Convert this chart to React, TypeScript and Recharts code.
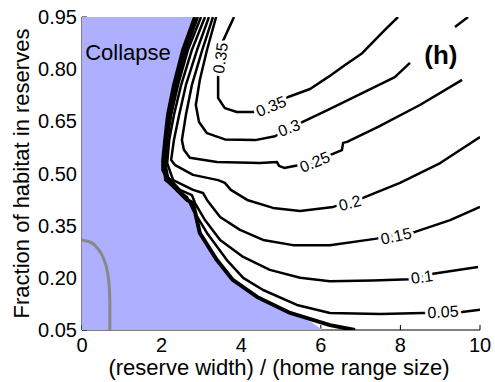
import { ComposedChart, Scatter, XAxis, YAxis, Label } from 'recharts'

const FONT = '"Liberation Sans", Arial, sans-serif'

const xTicks = [0, 2, 4, 6, 8, 10]
const yTicks = [0.05, 0.2, 0.35, 0.5, 0.65, 0.8, 0.95]

type Pt = [number, number]

// edge of the collapse region (thick black line)
const boundary: Pt[] = [
  [2.84, 0.95], [2.54, 0.855], [2.31, 0.754], [2.16, 0.668], [2.09, 0.596], [2.04, 0.539],
  [2.04, 0.51], [2.21, 0.473], [2.64, 0.424], [2.79, 0.415], [2.96, 0.329], [3.39, 0.251],
  [3.79, 0.194], [4.4, 0.145], [5.23, 0.099], [6.23, 0.064], [6.86, 0.05],
]

// blue "Collapse" region
const collapse: Pt[] = [
  [0, 0.05], [0, 0.95], [2.84, 0.95], [2.54, 0.855], [2.31, 0.754], [2.16, 0.668], [2.09, 0.596],
  [2.04, 0.539], [2.04, 0.51], [2.21, 0.473], [2.64, 0.424], [2.79, 0.415], [2.96, 0.329],
  [3.39, 0.251], [3.79, 0.194], [4.4, 0.145], [5.23, 0.099], [5.75, 0.074], [6.05, 0.05],
]

// grey curve bottom left
const grey: Pt[] = [
  [0, 0.309], [0.2, 0.303], [0.35, 0.29], [0.47, 0.272], [0.58, 0.245], [0.65, 0.21],
  [0.69, 0.165], [0.7, 0.11], [0.7, 0.05],
]

const c005: Pt[] = [
  [2.91, 0.95], [2.61, 0.855], [2.36, 0.754], [2.21, 0.668], [2.11, 0.596], [2.06, 0.53],
  [2.09, 0.481], [2.64, 0.432], [2.79, 0.395], [3.14, 0.329], [3.64, 0.251], [4.05, 0.2],
  [4.55, 0.165], [5.4, 0.122], [6.23, 0.099], [7.5, 0.096], [8.57, 0.099], [9.55, 0.102],
  [10, 0.108],
]
const c010: Pt[] = [
  [2.99, 0.95], [2.66, 0.855], [2.41, 0.754], [2.24, 0.668], [2.14, 0.596], [2.09, 0.53],
  [2.16, 0.49], [2.46, 0.453], [2.76, 0.438], [2.84, 0.415], [3.09, 0.366], [3.47, 0.309],
  [4.05, 0.26], [4.72, 0.223], [5.48, 0.2], [6.23, 0.19], [7.3, 0.192], [8.24, 0.196],
  [8.82, 0.212], [9.95, 0.231],
]
const c015: Pt[] = [
  [3.09, 0.95], [2.76, 0.855], [2.49, 0.754], [2.31, 0.668], [2.19, 0.596], [2.14, 0.53],
  [2.29, 0.481], [2.79, 0.453], [3.04, 0.444], [3.14, 0.424], [3.47, 0.375], [3.97, 0.338],
  [4.55, 0.309], [5.3, 0.294], [6.23, 0.294], [7.36, 0.312], [8.37, 0.332], [9.25, 0.366],
  [10, 0.404],
]
const c020: Pt[] = [
  [3.19, 0.95], [2.89, 0.855], [2.61, 0.754], [2.44, 0.668], [2.31, 0.596], [2.24, 0.539],
  [2.34, 0.524], [2.79, 0.496], [3.42, 0.481], [3.59, 0.473], [3.74, 0.453], [4.15, 0.424],
  [4.8, 0.401], [5.48, 0.392], [6.31, 0.404], [7.06, 0.43], [7.99, 0.473], [9.0, 0.53],
  [10, 0.605],
]
const c025: Pt[] = [
  [3.29, 0.95], [3.02, 0.855], [2.76, 0.754], [2.61, 0.668], [2.51, 0.596], [2.56, 0.568],
  [2.71, 0.545], [3.39, 0.533], [4.47, 0.53], [4.9, 0.533], [4.95, 0.522], [5.08, 0.516],
  [5.85, 0.533], [6.23, 0.553], [6.53, 0.567], [6.56, 0.588], [6.66, 0.591], [7.44, 0.634],
  [8.49, 0.697], [9.55, 0.769],
]
const c030a: Pt[] = [
  [3.37, 0.95], [3.14, 0.855], [2.96, 0.769], [2.86, 0.697], [2.94, 0.648], [3.14, 0.616],
  [3.59, 0.598], [4.35, 0.596], [4.85, 0.607], [5.2, 0.631], [5.48, 0.645], [6.18, 0.683],
  [7.04, 0.731], [7.86, 0.777], [8.24, 0.818],
]
const c030b: Pt[] = [[9.37, 0.921], [9.7, 0.95]]
const c035: Pt[] = [
  [3.82, 0.95], [3.67, 0.913], [3.52, 0.875], [3.45, 0.832], [3.42, 0.789], [3.42, 0.717],
  [3.59, 0.688], [3.89, 0.677], [4.3, 0.677], [4.75, 0.694], [5.18, 0.72], [5.73, 0.743],
  [6.18, 0.777], [6.61, 0.812], [7.04, 0.846], [7.61, 0.913], [7.94, 0.95],
]

const contourLabels = [
  { x: 3.48, y: 0.832, text: '0.35', angle: -82 },
  { x: 4.75, y: 0.693, text: '0.35', angle: -22 },
  { x: 5.2, y: 0.631, text: '0.3', angle: -20 },
  { x: 5.85, y: 0.533, text: '0.25', angle: -22 },
  { x: 6.73, y: 0.415, text: '0.2', angle: -15 },
  { x: 7.89, y: 0.32, text: '0.15', angle: -12 },
  { x: 8.54, y: 0.202, text: '0.1', angle: -8 },
  { x: 9.07, y: 0.102, text: '0.05', angle: -3 },
]

const notes = [
  { x: 0.08, y: 0.826, text: 'Collapse', bold: false },
  { x: 8.6, y: 0.815, text: '(h)', bold: true },
]

const toXY = (pts: Pt[]) => pts.map(([x, y]) => ({ x, y }))

const NoDot = () => <g />

const ContourText = (p: any) => (
  <text
    x={p.cx}
    y={p.cy}
    transform={`rotate(${p.payload.angle} ${p.cx} ${p.cy})`}
    textAnchor="middle"
    dominantBaseline="central"
    fontSize={16}
    fontFamily={FONT}
    fill="#000"
    stroke="#fff"
    strokeWidth={6}
    paintOrder="stroke"
  >
    {p.payload.text}
  </text>
)

const NoteText = (p: any) => (
  <text
    x={p.cx}
    y={p.cy}
    fontSize={p.payload.bold ? 26 : 22}
    fontWeight={p.payload.bold ? 'bold' : 'normal'}
    fontFamily={FONT}
    fill="#000"
  >
    {p.payload.text}
  </text>
)

const contours = [c005, c010, c015, c020, c025, c030a, c030b, c035]

export default function App() {
  const axisTick = { fontSize: 20, fill: '#000', fontFamily: FONT }
  return (
    <div style={{ position: 'absolute', left: 0, top: 0, background: '#fff' }}>
      <ComposedChart width={495} height={382} margin={{ top: 17, right: 15, bottom: 0, left: 0 }}>
        <XAxis
          type="number"
          dataKey="x"
          domain={[0, 10]}
          ticks={xTicks}
          allowDataOverflow
          height={52}
          tickSize={-5}
          tickMargin={13}
          tick={axisTick}
          stroke="#000"
        >
          <Label
            value="(reserve width) / (home range size)"
            position="insideBottom"
            offset={7}
            dx={-2}
            style={{ fontSize: 22, fill: '#000', fontFamily: FONT }}
          />
        </XAxis>
        <XAxis
          xAxisId="top"
          orientation="top"
          type="number"
          domain={[0, 10]}
          ticks={xTicks}
          height={0}
          tickSize={-5}
          tick={false}
          stroke="#000"
        />
        <YAxis
          type="number"
          dataKey="y"
          domain={[0.05, 0.95]}
          ticks={yTicks}
          allowDataOverflow
          width={82}
          tickSize={-5}
          tickMargin={10}
          tick={axisTick}
          tickFormatter={(v: number) => v.toFixed(2)}
          stroke="#000"
        >
          <Label
            value="Fraction of habitat in reserves"
            angle={-90}
            position="center"
            dx={-20}
            style={{ fontSize: 22, fill: '#000', fontFamily: FONT, textAnchor: 'middle' }}
          />
        </YAxis>
        <YAxis
          yAxisId="right"
          orientation="right"
          type="number"
          domain={[0.05, 0.95]}
          ticks={yTicks}
          width={0}
          tickSize={-5}
          tick={false}
          stroke="#000"
        />
        <Scatter
          data={toXY(collapse)}
          shape={NoDot}
          line={{ fill: '#afafff', stroke: 'none' }}
          lineType="joint"
          isAnimationActive={false}
        />
        <Scatter
          data={toXY(grey)}
          shape={NoDot}
          line={{ stroke: '#888888', strokeWidth: 3, fill: 'none' }}
          lineType="joint"
          lineJointType="monotoneY"
          isAnimationActive={false}
        />
        {contours.map((c, i) => (
          <Scatter
            key={i}
            data={toXY(c)}
            shape={NoDot}
            line={{ stroke: '#000', strokeWidth: 2.5, fill: 'none', strokeLinejoin: 'round' }}
            lineType="joint"
            isAnimationActive={false}
          />
        ))}
        <Scatter
          data={toXY(boundary)}
          shape={NoDot}
          line={{ stroke: '#000', strokeWidth: 4, fill: 'none', strokeLinejoin: 'round' }}
          lineType="joint"
          isAnimationActive={false}
        />
        <Scatter data={contourLabels} shape={ContourText} isAnimationActive={false} />
        <Scatter data={notes} shape={NoteText} isAnimationActive={false} />
      </ComposedChart>
    </div>
  )
}
